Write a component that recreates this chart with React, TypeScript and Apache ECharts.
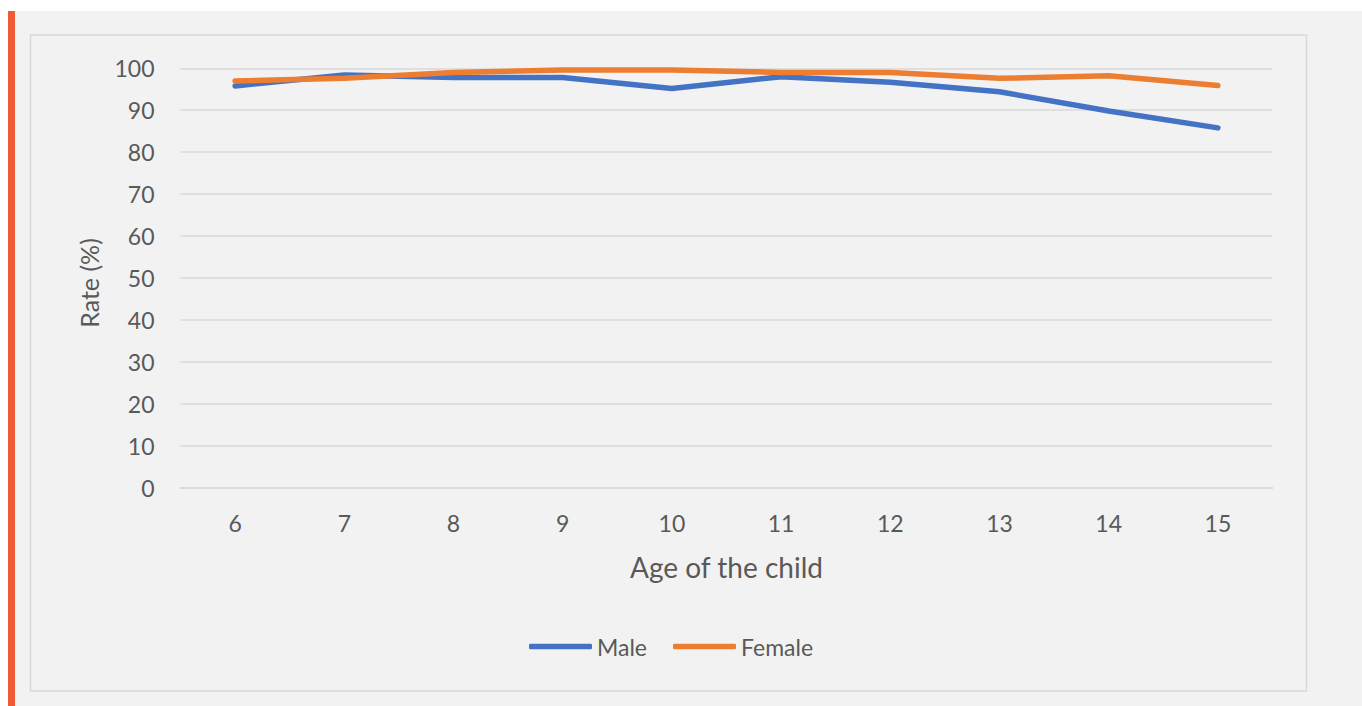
import React, { useEffect, useRef } from "react";
import * as echarts from "echarts";

const ages = ["6", "7", "8", "9", "10", "11", "12", "13", "14", "15"];
const maleRate = [95.8, 98.4, 97.8, 97.8, 95.2, 98.0, 96.7, 94.4, 89.8, 85.8];
const femaleRate = [97.0, 97.6, 99.0, 99.6, 99.6, 99.0, 99.0, 97.6, 98.2, 95.9];
const seriesNames = ["Male", "Female"];
const xTitle = "Age of the child";
const yTitle = "Rate (%)";

const FONT = "Lato, 'Open Sans', sans-serif";
const TEXT = "#595959";
const GRID = "#d9d9d9";

export default function App() {
  const ref = useRef<HTMLDivElement>(null);
  useEffect(() => {
    if (!ref.current) return;
    const chart = echarts.init(ref.current, null, { renderer: "svg" });
    chart.setOption({
      animation: false,
      backgroundColor: "#ffffff",
      textStyle: { fontFamily: FONT, color: TEXT },
      graphic: [
        { type: "rect", silent: true, z: -10, shape: { x: 15, y: 11, width: 1347, height: 695 }, style: { fill: "#f2f2f2" } },
        { type: "rect", silent: true, z: -10, shape: { x: 8, y: 11, width: 7, height: 695 }, style: { fill: "#f15a36" } },
        { type: "rect", silent: true, z: -9, shape: { x: 30.5, y: 35, width: 1276, height: 656 }, style: { fill: "#f2f2f2", stroke: GRID, lineWidth: 1.5 } },
      ],
      grid: { left: 180.5, top: 68.3, width: 1092, height: 419.4, containLabel: false },
      legend: {
        data: seriesNames,
        left: 524,
        top: 630,
        icon: "roundRect",
        itemWidth: 63,
        itemHeight: 5.5,
        itemGap: 26,
        textStyle: { fontFamily: FONT, color: TEXT, fontSize: 23 },
      },
      xAxis: {
        type: "category",
        data: ages,
        boundaryGap: true,
        name: xTitle,
        nameLocation: "middle",
        nameGap: 65,
        nameTextStyle: { fontFamily: FONT, color: TEXT, fontSize: 28 },
        axisLine: { show: true, lineStyle: { color: GRID, width: 1.5 } },
        axisTick: { show: false },
        axisLabel: { color: TEXT, fontFamily: FONT, fontSize: 23, margin: 24 },
        splitLine: { show: false },
      },
      yAxis: {
        type: "value",
        min: 0,
        max: 100,
        interval: 10,
        name: yTitle,
        nameLocation: "middle",
        nameRotate: 90,
        nameGap: 79,
        nameTextStyle: { fontFamily: FONT, color: TEXT, fontSize: 25, padding: [0, 10, 0, 0] },
        axisLine: { show: false },
        axisTick: { show: false },
        axisLabel: { color: TEXT, fontFamily: FONT, fontSize: 23, margin: 26 },
        splitLine: { show: true, lineStyle: { color: GRID, width: 1.5 } },
      },
      series: [
        {
          name: seriesNames[0],
          type: "line",
          data: maleRate,
          symbol: "none",
          color: "#4472c4",
          lineStyle: { color: "#4472c4", width: 5.5, cap: "round", join: "round" },
        },
        {
          name: seriesNames[1],
          type: "line",
          data: femaleRate,
          symbol: "none",
          color: "#ed7d31",
          lineStyle: { color: "#ed7d31", width: 5.5, cap: "round", join: "round" },
        },
      ],
    });
    return () => chart.dispose();
  }, []);
  return (
    <div
      ref={ref}
      style={{ position: "fixed", left: 0, top: 0, width: 1362, height: 706 }}
    />
  );
}
